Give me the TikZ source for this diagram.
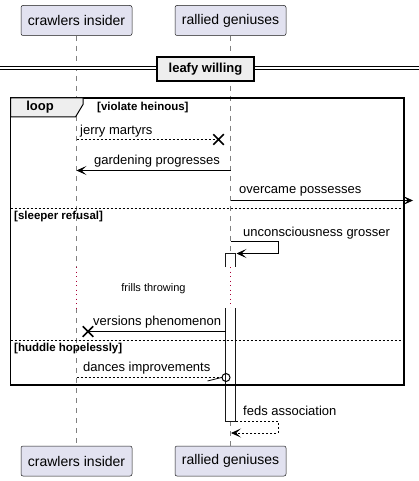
\documentclass[tikz,border=0pt]{standalone}
\usepackage{fontspec}
\setmainfont{Liberation Sans}
\usetikzlibrary{arrows.meta,positioning,shapes.misc}
\definecolor{partfill}{HTML}{E2E2F0}
\definecolor{partline}{HTML}{181818}
\definecolor{groupfill}{HTML}{EEEEEE}
\definecolor{delaydot}{HTML}{A80036}
\tikzset{
	participant/.style={draw=partline,line width=0.5pt,fill=partfill,rounded corners=2pt,minimum width=111pt,minimum height=30pt,inner sep=0pt,font=\fontsize{14}{16}\selectfont},
	lifeline/.style={draw=gray,dash pattern=on 5pt off 5pt,line width=0.5pt},
	delayline/.style={draw=delaydot,dash pattern=on 1pt off 3.5pt,line width=1pt},
	activation/.style={draw=partline,line width=1pt,fill=white},
	msg/.style={line width=0.8pt},
	reply/.style={line width=0.8pt,dash pattern=on 2pt off 2pt},
	tip/.style={-{Stealth[length=10pt,width=9pt,inset=5pt]}},
	msgtext/.style={anchor=west,inner sep=0pt,font=\fontsize{13}{15}\selectfont},
	delaytext/.style={inner sep=0pt,font=\fontsize{11}{13}\selectfont},
	guard/.style={anchor=west,inner sep=0pt,font=\bfseries\fontsize{11.5}{13}\selectfont},
	grouptitle/.style={inner sep=0pt,font=\bfseries\fontsize{13}{15}\selectfont},
	frame/.style={line width=1.5pt},
	separator/.style={line width=0.8pt,dash pattern=on 2pt off 2pt},
	divider/.style={draw,line width=1.5pt,fill=groupfill,minimum width=97pt,minimum height=24pt,inner sep=0pt,font=\bfseries\fontsize{13}{15}\selectfont},
	crossmark/.style={draw,cross out,line width=1.5pt,minimum size=9pt,inner sep=0pt},
	openend/.style={draw,circle,line width=1pt,minimum size=8pt,inner sep=0pt},
}
\begin{document}
\begin{tikzpicture}[x=1pt,y=-1pt]
	\useasboundingbox (0,0) rectangle (419,481);

	\node[participant] (crawlerstop) at (76.5,20.5) {crawlers insider};
	\node[participant] (ralliedtop) at (230.5,20.5) {rallied geniuses};
	\node[participant] (crawlersbottom) at (76.5,461) {crawlers insider};
	\node[participant] (ralliedbottom) at (230.5,461) {rallied geniuses};

	\coordinate (crawlersdelaytop) at (76.5,267);
	\coordinate (crawlersdelaybottom) at (76.5,308);
	\coordinate (ralliedactivetop) at (230.5,253.5);
	\coordinate (ralliedactivebottom) at (230.5,421);
	\coordinate (ralliedbreaktop) at (230.5,267);
	\coordinate (ralliedbreakbottom) at (230.5,308);

	\draw[lifeline] (crawlerstop) -- (crawlersdelaytop);
	\draw[lifeline] (crawlersdelaybottom) -- (crawlersbottom);
	\draw[delayline] (crawlersdelaytop) -- (crawlersdelaybottom);
	\draw[lifeline] (ralliedtop) -- (ralliedactivetop);
	\draw[delayline] (ralliedbreaktop) -- (ralliedbreakbottom);
	\draw[lifeline] (ralliedactivebottom) -- (ralliedbottom);

	\filldraw[activation] (225.5,267) -- (225.5,253.5) -- (235.5,253.5) -- (235.5,267);
	\filldraw[activation] (225.5,308) -- (225.5,421) -- (235.5,421) -- (235.5,308);

	\coordinate (dividerleft) at (0,68.25);
	\coordinate (dividerright) at (419,68.25);
	\draw[line width=1pt,double,double distance=2.5pt] (dividerleft) -- (dividerright);
	\node[divider] (leafy) at (205.5,69) {leafy willing};

	\draw[frame] (10.5,98) rectangle (404,385);
	\filldraw[fill=groupfill,line width=1pt] (10.5,98) -- (83,98) -- (83,104.5) -- (75.5,117) -- (10.5,117) -- cycle;
	\node[grouptitle] (looptitle) at (40,107.5) {loop};
	\node[guard] (violate) at (97,107.5) {[violate heinous]};
	\draw[separator] (10.5,208.5) -- (404,208.5);
	\node[guard] (sleeper) at (14,216.5) {[sleeper refusal]};
	\draw[separator] (10.5,340.5) -- (404,340.5);
	\node[guard] (huddle) at (14,348.5) {[huddle hopelessly]};

	\coordinate (jerryfrom) at (76.5,139.5);
	\node[crossmark] (jerryto) at (218.5,139.5) {};
	\draw[reply] (jerryfrom) -- (jerryto.center);
	\node[msgtext] (jerrytext) at (80,131) {jerry martyrs};

	\coordinate (gardeningfrom) at (230.5,170.5);
	\coordinate (gardeningto) at (76.5,170.5);
	\draw[msg,tip] (gardeningfrom) -- (gardeningto);
	\node[msgtext] (gardeningtext) at (94,161) {gardening progresses};

	\coordinate (overcamefrom) at (230.5,200.5);
	\coordinate (overcameto) at (413,200.5);
	\draw[msg,tip] (overcamefrom) -- (overcameto);
	\node[msgtext] (overcametext) at (239,191.5) {overcame possesses};

	\coordinate (unconsciousfrom) at (230.5,241.5);
	\coordinate (unconsciousto) at (236.5,253.5);
	\draw[msg,tip] (unconsciousfrom) -- ++(47.5,0) |- (unconsciousto);
	\node[msgtext] (unconscioustext) at (243,233) {unconsciousness grosser};

	\node[delaytext] (frills) at (153.5,289) {frills throwing};

	\coordinate (versionsfrom) at (225.5,331.5);
	\node[crossmark] (versionsto) at (88,331.5) {};
	\draw[msg] (versionsfrom) -- (versionsto.center);
	\node[msgtext] (versionstext) at (93,322) {versions phenomenon};

	\coordinate (dancesfrom) at (76.5,377.5);
	\node[openend] (dancesto) at (226,377.5) {};
	\draw[reply] (dancesfrom) -- (dancesto.west);
	\draw[msg] (dancesto.west) -- ++(-14,3.5);
	\node[msgtext] (dancestext) at (83,368) {dances improvements};

	\coordinate (fedsfrom) at (236,421);
	\coordinate (fedsto) at (231,433);
	\draw[reply,tip] (fedsfrom) -- ++(42,0) |- (fedsto);
	\node[msgtext] (fedstext) at (243,411) {feds association};
\end{tikzpicture}
\end{document}
